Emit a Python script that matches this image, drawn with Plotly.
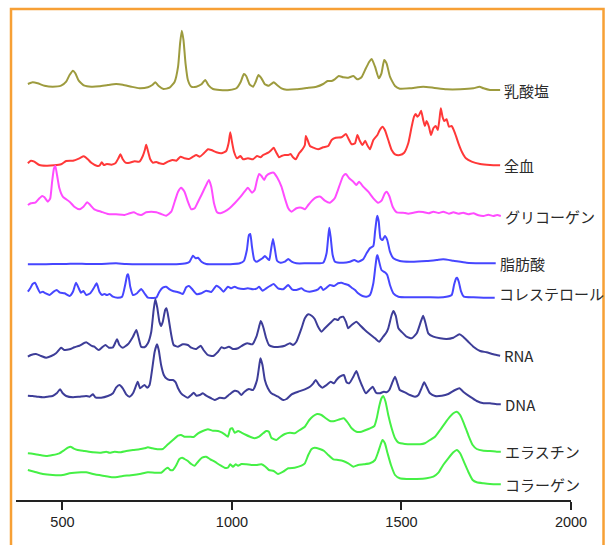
import plotly.graph_objects as go

# Raman spectra: (wavenumber cm^-1, relative intensity a.u.)
lactate = [(398,6),(412,7.7),(427,6.7),(447,4.3),(471,3.3),(496,4.3),(511,8.3),(521,15),(531,19.3),(538,16.7),(548,9.3),(565,4.3),(585,3.3),(609,3.7),(634,5),(658,6),(678,5.3),(703,3.3),(727,1.7),(752,2.7),(765,5),(774,7.7),(784,4),(798,1),(816,2.3),(831,8.3),(841,23.3),(847,46.7),(852,59.3),(857,50),(863,26.7),(870,10),(880,3.3),(895,3.3),(910,5.7),(921,10),(931,4.7),(944,1),(964,0),(993,0),(1013,1.7),(1026,8.3),(1035,16),(1042,14),(1052,5.7),(1062,3.3),(1070,8.3),(1078,15),(1087,11.7),(1097,5.7),(1109,4.3),(1123,7.7),(1133,5),(1146,1.7),(1161,0.3),(1190,0.7),(1220,2),(1249,3.3),(1269,6),(1282,9),(1294,9),(1303,10.7),(1315,14),(1328,12.7),(1343,12.3),(1358,14),(1370,10.7),(1382,12.7),(1395,21.7),(1405,28.3),(1412,31),(1422,23.3),(1433,11.7),(1441,16.7),(1449,30),(1456,26.7),(1466,13.3),(1481,4),(1495,1.3),(1525,1.7),(1564,3.3),(1594,2.3),(1633,0.7),(1673,0.7),(1712,1.7),(1730,3.3),(1742,1.7),(1761,0),(1791,0)]

blood = [(398,1.7),(407,4.3),(417,3.3),(432,0),(452,-0.7),(476,-0.3),(496,0.7),(511,4),(531,4.3),(550,6.7),(563,8.7),(575,5.7),(585,2.3),(601,-0.7),(609,-0.7),(616,2.7),(622,0),(631,1),(644,0.3),(656,1.7),(665,6.7),(671,10.7),(678,5.7),(686,2.3),(698,2.3),(713,3.7),(727,3.3),(737,9),(743,15),(747,20.3),(752,14.3),(759,5.7),(767,2.3),(777,3),(786,1.7),(798,1),(811,3.3),(824,5),(836,4.3),(848,8.3),(860,6.7),(873,6),(885,8.3),(895,10),(905,8.3),(917,11.7),(929,15.7),(939,15),(954,12.7),(969,11.7),(983,14),(990,21.7),(995,32.7),(1000,23.3),(1006,13.3),(1015,6.7),(1025,9),(1033,5.7),(1047,6.7),(1062,5.7),(1074,9),(1084,7.7),(1092,10),(1107,12.3),(1116,15),(1123,17.3),(1131,12.3),(1139,7.7),(1146,9),(1156,10),(1166,10),(1173,11),(1180,7.7),(1188,5.7),(1198,11.7),(1208,15.7),(1215,20),(1218,29),(1223,25),(1230,19),(1240,17.3),(1254,15.7),(1269,17.7),(1284,19),(1294,25),(1306,27.3),(1323,27.7),(1336,31),(1343,26.7),(1353,20.7),(1363,21.7),(1370,30),(1377,24.3),(1385,20),(1393,24.3),(1399,20),(1407,15.7),(1417,25),(1429,30),(1436,35),(1444,38.3),(1451,35),(1461,25),(1471,15),(1481,10.7),(1495,10),(1508,12.3),(1520,21.7),(1530,38.3),(1537,48.3),(1542,51),(1547,48.3),(1552,50),(1558,54.3),(1564,45),(1569,39),(1574,44),(1581,38.3),(1587,30),(1594,36.7),(1601,39),(1607,35),(1612,45.7),(1616,56.7),(1621,48.3),(1626,44),(1633,45.7),(1640,38.3),(1648,39),(1658,31.7),(1668,21.7),(1678,13.3),(1690,6.7),(1707,3.3),(1732,1),(1761,0),(1791,-0.3)]

glycogen = [(398,11),(407,12.7),(420,13.3),(432,17.7),(440,20),(447,18.7),(457,14.3),(464,17.7),(469,32.7),(475,47.7),(479,50),(484,41),(491,27.7),(501,19.3),(511,16.7),(521,14.3),(535,9.3),(550,6.7),(562,9.3),(573,13.7),(582,11),(594,6.7),(614,4.3),(634,2),(658,1.7),(683,1),(698,2.7),(711,3.7),(722,1.7),(732,1),(747,3.7),(762,4.3),(777,3.7),(791,2),(806,0.3),(821,4.3),(831,14.3),(841,24.3),(850,28.3),(860,24.3),(870,14.3),(880,6.7),(890,7.7),(900,14.3),(910,21),(924,31),(932,36),(939,29.3),(947,12.7),(956,3.7),(966,2.7),(978,4.3),(993,7.7),(1008,12.7),(1023,18.3),(1037,24.3),(1047,28.3),(1059,23.3),(1067,26),(1074,36),(1080,42),(1087,40),(1095,36),(1101,40),(1113,42.7),(1123,43.3),(1133,38.7),(1146,29.3),(1156,17.7),(1166,7.7),(1176,4.3),(1190,7.7),(1205,8.3),(1215,6.7),(1225,11),(1238,16),(1249,18.7),(1261,19.3),(1274,15.3),(1289,13.3),(1303,17.7),(1316,29.3),(1328,40),(1336,42),(1346,37.7),(1358,34.3),(1367,31),(1375,34.3),(1387,29.3),(1402,24.3),(1417,17.7),(1431,13.3),(1441,15.3),(1451,22.7),(1456,24.3),(1464,20),(1474,9.3),(1486,3.7),(1505,3.3),(1520,2.3),(1535,3.3),(1550,4.3),(1564,4),(1580,2.7),(1594,4.3),(1610,3),(1623,4.3),(1640,2.3),(1653,3.7),(1668,2.3),(1682,3.3),(1697,1.7),(1712,2.7),(1727,0.7),(1742,0),(1756,1.3),(1771,0),(1782,1),(1793,0)]

fatty_acid = [(398,-0.3),(432,-0.3),(471,0),(511,0),(540,0.3),(570,0),(609,0),(658,0.7),(688,0),(767,-0.3),(836,-0.3),(865,0.7),(875,2.3),(885,8.3),(893,5.7),(900,6.3),(910,2.3),(924,0),(964,-0.3),(1003,0),(1023,0.7),(1035,3),(1044,14),(1050,29),(1054,30),(1059,17.3),(1066,4),(1074,2.3),(1082,4),(1090,5.7),(1097,8),(1104,5.7),(1110,4),(1115,14),(1121,25),(1127,14),(1133,3.3),(1143,1.3),(1156,2.3),(1166,5),(1176,2.3),(1190,0.7),(1220,0.7),(1249,0.7),(1269,1.3),(1279,10.7),(1284,27.3),(1287,36.3),(1291,27.3),(1297,9),(1304,2.3),(1328,1.3),(1348,2.3),(1361,4),(1372,2.3),(1387,4.7),(1397,10.7),(1407,15.7),(1417,18),(1422,32.3),(1427,45.7),(1429,48.3),(1433,42.3),(1438,25.7),(1444,24),(1451,28),(1458,24),(1466,12.3),(1476,5.7),(1495,3),(1525,2.3),(1574,3),(1604,4),(1623,4.7),(1653,3.3),(1692,1.3),(1732,0.7),(1778,0.7)]

cholesterol = [(398,6.3),(405,9.7),(412,14),(419,15.3),(427,9.7),(434,5.3),(442,6.3),(450,4.7),(462,3),(474,6.3),(483,8),(493,5.3),(506,4.7),(521,2),(531,6.3),(540,15.3),(548,9.7),(555,5.3),(562,7),(570,3),(582,4.7),(592,9.7),(601,14.7),(609,6.3),(617,3),(624,4),(631,3),(639,4),(649,1.3),(663,0.3),(676,1.3),(686,14.7),(691,23),(694,23.7),(700,11.3),(708,3),(720,4.7),(732,9),(742,4.7),(752,0.3),(767,0),(777,0.3),(786,6.3),(796,10.3),(806,11.3),(816,8.7),(826,7),(836,6.3),(846,5.3),(855,4),(865,10.7),(873,12),(883,8.7),(895,4),(910,4.7),(924,7.3),(939,6),(954,12.3),(964,10.3),(975,6.3),(988,11.3),(998,9.7),(1008,11.3),(1018,9.7),(1033,9),(1047,9.7),(1062,8.7),(1074,9.7),(1080,11.3),(1090,7.3),(1101,9.7),(1112,12),(1123,14),(1136,9.7),(1151,8.7),(1166,13),(1177,8.7),(1190,8),(1205,9.7),(1215,7.3),(1228,6.3),(1240,7),(1254,8.7),(1262,11.3),(1269,8),(1277,9.7),(1289,13),(1301,12),(1313,14.7),(1323,15.3),(1333,14),(1343,13),(1353,10.3),(1363,8),(1372,4.7),(1385,2),(1397,1.3),(1407,3),(1417,14.7),(1423,31.3),(1427,41.3),(1429,43),(1433,38),(1441,28),(1451,25.7),(1458,23),(1466,13),(1476,4.7),(1491,1.3),(1525,0.7),(1574,0.7),(1623,0.7),(1648,3),(1655,13),(1661,19.7),(1664,20.3),(1669,16.3),(1676,6.3),(1684,1.3),(1712,0.7),(1742,0.3),(1775,0.3)]

rna = [(398,-0.7),(407,1),(422,2),(437,0),(452,-1.7),(467,0),(481,2.7),(496,8.3),(506,6),(521,6.7),(535,8.7),(550,10.3),(570,13.7),(585,10.3),(594,9.3),(607,6),(619,9.3),(627,11),(637,8.3),(649,8.7),(661,16.7),(668,11),(678,8.3),(693,11.7),(708,19.3),(718,26),(725,17.7),(732,9.3),(742,8.7),(752,12.7),(762,24.3),(769,46),(774,57),(780,47.7),(786,34.3),(791,30),(796,34.3),(803,46),(807,47.7),(813,37.7),(821,21),(828,11),(841,9.3),(855,11.7),(870,11),(880,8.3),(895,7),(908,10.3),(916,6),(929,1),(944,0),(959,4.3),(969,8.7),(978,7.7),(991,9.3),(1003,7),(1018,7.7),(1033,11),(1045,12.7),(1060,11.7),(1072,19.3),(1080,29.3),(1085,35),(1092,29.3),(1101,17.7),(1109,11),(1121,9.3),(1141,9.3),(1156,10.3),(1171,12.7),(1180,11),(1190,14.3),(1205,27.7),(1215,37.7),(1225,41.7),(1235,40.3),(1244,37),(1254,29.3),(1264,24.3),(1274,27.7),(1289,32.7),(1303,37),(1313,36),(1318,38.3),(1328,39.3),(1336,34.3),(1343,27.7),(1353,31),(1367,34.3),(1377,31),(1392,26),(1407,21.7),(1422,17.7),(1434,14.3),(1446,19.3),(1454,22.7),(1461,27.7),(1471,41),(1476,45),(1483,40.3),(1491,27.7),(1500,24.3),(1515,19.3),(1530,17.7),(1545,22.7),(1557,34.3),(1564,40.3),(1571,32.7),(1579,22.7),(1594,19.3),(1614,17.7),(1633,17),(1653,18.3),(1671,21.7),(1682,19.3),(1697,14.3),(1712,9.3),(1732,5),(1751,3.7),(1771,1.7),(1791,0.3)]

dna = [(398,8.3),(412,8),(427,7.3),(442,6.7),(457,7.3),(471,8),(483,10.7),(493,14.7),(501,10.7),(511,8),(531,6.7),(550,7.3),(570,8),(580,7.3),(590,9.7),(597,6.7),(614,6.3),(634,8),(649,10.7),(658,16.3),(668,19),(678,15.7),(688,9.7),(698,7.3),(708,10.7),(716,17.3),(722,22.3),(729,15.7),(735,17.3),(742,19),(750,16.3),(757,19),(765,35.7),(772,52.3),(779,59.7),(784,54),(791,39),(799,29),(806,25.7),(816,24),(826,24),(834,21.7),(841,15.7),(850,10.7),(860,8),(870,6.3),(880,9),(887,11.3),(895,8.3),(905,9),(914,10.7),(924,8.3),(939,5.7),(949,4),(964,6.3),(978,5.7),(993,9.7),(1008,13.3),(1018,12.3),(1028,9),(1037,12.3),(1050,15),(1062,14),(1074,24),(1080,37.3),(1084,45.7),(1090,39),(1097,24),(1106,15.7),(1116,10.7),(1136,7.3),(1151,4),(1161,5),(1176,9.7),(1195,12.3),(1215,14.7),(1230,17.3),(1240,20.7),(1247,24),(1257,19),(1267,16.3),(1279,19),(1291,22.3),(1301,20.7),(1308,24),(1318,27.3),(1330,29),(1338,21.7),(1346,20.7),(1358,27.3),(1367,33),(1375,25.7),(1385,17.3),(1395,10.7),(1405,14),(1415,17.3),(1425,11.3),(1436,10.7),(1448,12.3),(1456,11.7),(1464,14),(1474,22.3),(1481,27.3),(1488,20.7),(1495,14),(1510,11.7),(1525,9),(1540,7.3),(1550,9),(1559,15.7),(1567,21.7),(1574,17.3),(1584,10.7),(1599,8),(1619,8.3),(1638,10),(1658,14),(1671,15.7),(1682,12.3),(1702,7.3),(1722,3),(1742,0.7),(1761,0.7),(1781,-0.3),(1793,-0.3)]

elastin = [(398,-1.3),(412,-1.7),(432,-3),(452,-4),(471,-3),(491,-1.3),(506,2),(516,4.3),(524,5.3),(532,3.7),(545,2),(565,1),(590,-0.3),(614,-0.7),(629,0.3),(639,-0.7),(654,0.3),(668,-0.3),(688,1),(708,2),(727,2.7),(742,3.7),(752,4.7),(765,3.7),(782,2.7),(796,3),(811,7.7),(826,12),(841,16.3),(850,17),(860,15.3),(875,15.3),(887,15),(900,18.7),(914,21),(929,22.7),(944,21.3),(959,21),(971,19.3),(981,17),(988,15.3),(995,23),(1001,23.7),(1008,19.3),(1018,21),(1028,19.3),(1042,17),(1057,14.7),(1067,13.7),(1080,15.3),(1092,18.7),(1101,21),(1109,20.3),(1116,14.3),(1131,12),(1143,15.3),(1156,18),(1171,19.3),(1185,18.7),(1200,22),(1215,25.3),(1228,32),(1240,36),(1251,38),(1264,37),(1277,33.7),(1289,31),(1303,31),(1318,32.7),(1330,33.7),(1343,28.7),(1353,23.7),(1367,20.3),(1382,20.3),(1395,22),(1407,23.7),(1420,26),(1427,33.7),(1434,45.3),(1441,53.7),(1446,56),(1453,50.3),(1461,37),(1471,23.7),(1481,13.7),(1491,9.3),(1510,8),(1535,7.7),(1555,7.7),(1569,8.7),(1584,12),(1599,15.3),(1614,22),(1628,28.7),(1643,35.3),(1653,38.7),(1663,40.3),(1673,37),(1684,28.7),(1697,17),(1710,7),(1722,3),(1742,1.3),(1761,1),(1781,0.3),(1793,0.3)]

collagen = [(398,14),(417,12.3),(442,10),(471,9),(501,9),(521,10.7),(535,11.3),(555,11.7),(570,11.7),(590,10),(619,8.3),(649,6.7),(678,8),(708,9),(732,10.3),(752,11.7),(772,11.3),(791,11.3),(804,15),(811,16.3),(818,14),(826,14),(836,19),(845,25),(853,26.3),(860,25),(870,23),(880,20),(890,18.3),(900,22.3),(912,26.3),(924,27.3),(936,24.7),(949,22.3),(964,19),(978,16.3),(988,16.3),(995,19.7),(1003,17.3),(1011,19.7),(1018,18.3),(1028,20),(1042,19.7),(1057,19),(1072,19),(1087,19.7),(1099,17.3),(1109,14),(1123,13),(1136,10),(1151,12.3),(1166,15.7),(1185,16.3),(1205,18.3),(1215,20.7),(1225,29),(1235,35),(1244,36.3),(1259,35),(1272,33),(1284,29),(1299,24.7),(1313,24),(1328,23),(1343,20.7),(1358,17.3),(1372,19),(1389,19.7),(1407,20.7),(1422,24),(1431,31.7),(1438,39),(1444,44),(1451,40.7),(1459,30.7),(1469,19),(1481,9),(1495,5.7),(1515,5),(1545,5),(1574,5.7),(1594,7.3),(1609,11.3),(1623,19),(1638,25.7),(1653,31.7),(1663,34),(1673,30.7),(1684,22.3),(1697,12.3),(1710,4),(1722,1.7),(1742,0.7),(1761,0),(1793,-0.3)]

labels = ["乳酸塩", "全血", "グリコーゲン", "脂肪酸", "コレステロール", "RNA", "DNA", "エラスチン", "コラーゲン"]
spectra = [lactate, blood, glycogen, fatty_acid, cholesterol, rna, dna, elastin, collagen]
stack_offsets = [410, 335, 284, 236, 202, 144, 96, 48, 16]
colors = ["#9d9b3e", "#ff3838", "#ff4cff", "#4646ff", "#4646ff", "#3d3d98", "#3d3d98", "#45f045", "#45f045"]
x_ticks = [500, 1000, 1500, 2000]

fig = go.Figure()
annotations = []
for name, spec, off, col in zip(labels, spectra, stack_offsets, colors):
    xs = [p[0] for p in spec]
    ys = [p[1] + off for p in spec]
    fig.add_trace(go.Scatter(x=xs, y=ys, mode="lines", name=name,
                             line=dict(color=col, width=2, shape="spline", smoothing=0.5),
                             showlegend=False, hoverinfo="skip"))
    annotations.append(dict(x=xs[-1], y=ys[-1], text=name, xref="x", yref="y",
                            showarrow=False, xanchor="left", yanchor="middle", xshift=2,
                            yshift=4 if name == "コレステロール" else 0,
                            font=dict(family="Noto Sans CJK JP", size=15, color="#2a2a2a")))

fig.update_layout(
    width=605, height=545,
    margin=dict(l=16, r=34, t=10, b=45),
    paper_bgcolor="white", plot_bgcolor="white",
    annotations=annotations,
    xaxis=dict(range=[363, 2000], tickvals=x_ticks, ticktext=[str(t) for t in x_ticks],
               showgrid=False, zeroline=False, showline=True, linecolor="#222222", linewidth=2,
               ticks="outside", ticklen=8, tickwidth=2, tickcolor="#222222",
               tickfont=dict(family="Liberation Sans, Arial", size=14.5, color="#222222")),
    yaxis=dict(range=[0, 490], visible=False, showgrid=False, zeroline=False),
    shapes=[dict(type="rect", xref="paper", yref="paper", x0=-0.009, x1=1.0586, y0=-0.12, y1=1.002,
                 line=dict(color="#f7a035", width=2.5), fillcolor="rgba(0,0,0,0)", layer="above")],
)

fig.write_html("out.html", config={"displayModeBar": False},
               post_script="document.body.style.margin='0';document.body.style.overflow='hidden';")
